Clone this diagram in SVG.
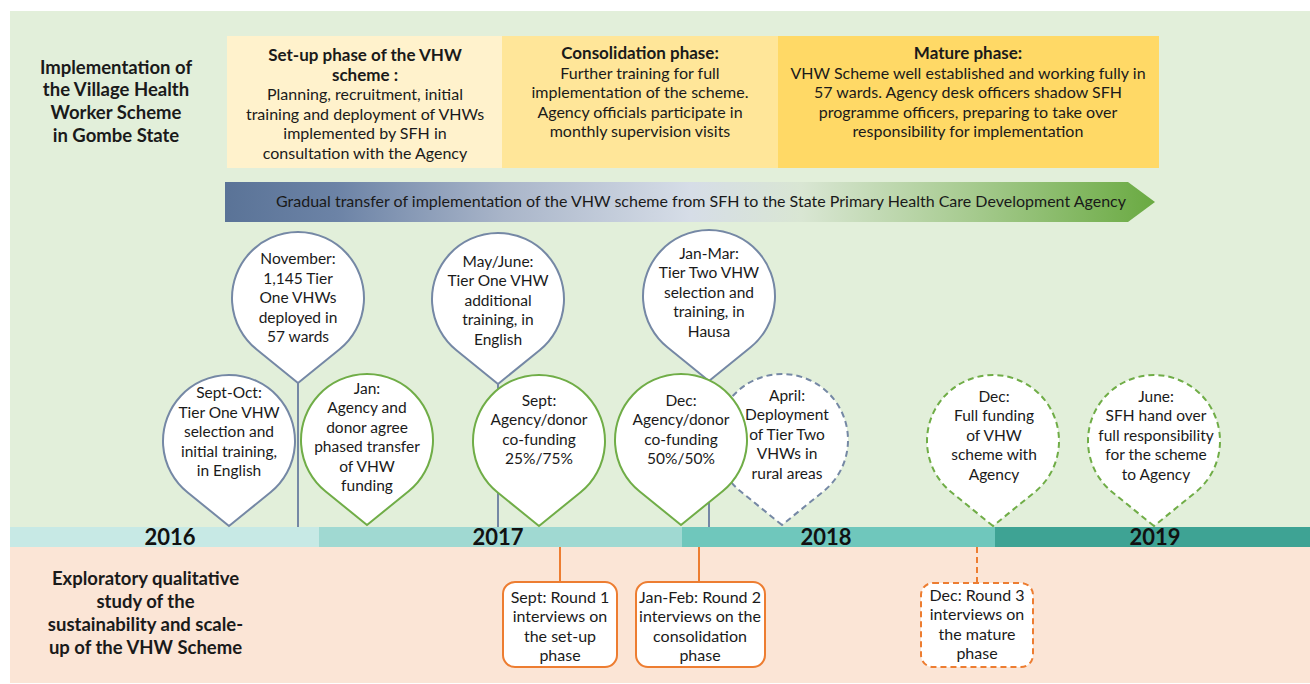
<svg xmlns="http://www.w3.org/2000/svg" width="1310" height="684" viewBox="0 0 1310 684">
  <defs>
    <style>
      text { font-family: Lato, "Open Sans", "Liberation Sans", sans-serif; fill: #1a1a1a; text-anchor: middle; }
      .head { font-weight: bold; font-size: 18.5px; }
      .ptitle { font-weight: bold; font-size: 17px; }
      .pbody { font-size: 16px; }
      .pin { font-size: 15.5px; }
      .box { font-size: 16px; }
      .year { font-weight: bold; font-size: 22px; fill: #111; }
      .arrowtxt { font-size: 16px; }
      .pin-blue { fill: #fff; stroke: #7588A5; stroke-width: 2; }
      .pin-green { fill: #fff; stroke: #70AD47; stroke-width: 2; }
      .dashed { stroke-dasharray: 6 4; }
      .stem { stroke: #7588A5; stroke-width: 2; fill: none; }
      .study { fill: #fff; stroke: #ED7D31; stroke-width: 2; }
      .study-link { stroke: #ED7D31; stroke-width: 2; fill: none; }
    </style>
    <linearGradient id="transferGrad" x1="225" y1="0" x2="1155" y2="0" gradientUnits="userSpaceOnUse">
      <stop offset="0" stop-color="#5A7397"/>
      <stop offset="0.12" stop-color="#6C83A6"/>
      <stop offset="0.3" stop-color="#A9B5C9"/>
      <stop offset="0.5" stop-color="#D6DDE7"/>
      <stop offset="0.62" stop-color="#D9E6D3"/>
      <stop offset="0.8" stop-color="#A7CB90"/>
      <stop offset="1" stop-color="#6AAA42"/>
    </linearGradient>
  </defs>

  <!-- background bands -->
  <rect x="0" y="0" width="1310" height="684" fill="#ffffff"/>
  <rect x="10" y="11" width="1300" height="516" fill="#E2EFDA"/>
  <rect x="10" y="547" width="1300" height="136" fill="#FBE5D6"/>

  <!-- section headings -->
  <g id="implementation-heading">
    <text class="head" x="116" y="73.5">Implementation of</text>
    <text class="head" x="116" y="96">the Village Health</text>
    <text class="head" x="116" y="118.5">Worker Scheme</text>
    <text class="head" x="116" y="141.5">in Gombe State</text>
  </g>
  <g id="study-heading">
    <text class="head" x="145.5" y="584.5">Exploratory qualitative</text>
    <text class="head" x="145.5" y="607.5">study of the</text>
    <text class="head" x="145.5" y="630.5">sustainability and scale-</text>
    <text class="head" x="145.5" y="653.5">up of the VHW Scheme</text>
  </g>

  <!-- phases -->
  <g id="phase-setup">
    <rect x="227" y="36" width="275" height="132" fill="#FFF2CC"/>
    <text class="ptitle" x="365" y="61">Set-up phase of the VHW</text>
    <text class="ptitle" x="365" y="81">scheme :</text>
    <text class="pbody" x="365" y="100">Planning, recruitment, initial</text>
    <text class="pbody" x="365" y="120">training and deployment of VHWs</text>
    <text class="pbody" x="365" y="139">implemented by SFH in</text>
    <text class="pbody" x="365" y="159">consultation with the Agency</text>
  </g>
  <g id="phase-consolidation">
    <rect x="502" y="36" width="276" height="132" fill="#FFE699"/>
    <text class="ptitle" x="640" y="59">Consolidation phase:</text>
    <text class="pbody" x="640" y="79">Further training for full</text>
    <text class="pbody" x="640" y="98">implementation of the scheme.</text>
    <text class="pbody" x="640" y="118">Agency officials participate in</text>
    <text class="pbody" x="640" y="137">monthly supervision visits</text>
  </g>
  <g id="phase-mature">
    <rect x="778" y="36" width="381" height="132" fill="#FFD966"/>
    <text class="ptitle" x="968" y="59">Mature phase:</text>
    <text class="pbody" x="968" y="79">VHW Scheme well established and working fully in</text>
    <text class="pbody" x="968" y="98">57 wards. Agency desk officers shadow SFH</text>
    <text class="pbody" x="968" y="118">programme officers, preparing to take over</text>
    <text class="pbody" x="968" y="137">responsibility for implementation</text>
  </g>

  <!-- transfer arrow -->
  <g id="transfer-arrow">
    <polygon points="225,182 1128,182 1155,202 1128,222 225,222" fill="url(#transferGrad)"/>
    <text class="arrowtxt" x="701" y="207">Gradual transfer of implementation of the VHW scheme from SFH to the State Primary Health Care Development Agency</text>
  </g>

  <!-- year bar -->
  <g id="year-bar">
    <rect x="10" y="527" width="309" height="20" fill="#C7E9E5"/>
    <rect x="319" y="527" width="363" height="20" fill="#A0D9D2"/>
    <rect x="682" y="527" width="313" height="20" fill="#6FC7BC"/>
    <rect x="995" y="527" width="315" height="20" fill="#3EA394"/>
    <text class="year" x="170" y="545">2016</text>
    <text class="year" x="498" y="545">2017</text>
    <text class="year" x="826" y="545">2018</text>
    <text class="year" x="1155" y="545">2019</text>
  </g>

  <!-- connectors: pin stems and study links -->
  <g id="connectors">
    <line class="stem" x1="298" y1="382" x2="298" y2="527"/>
    <line class="stem" x1="498" y1="383" x2="498" y2="527"/>
    <line class="stem" x1="709" y1="380" x2="709" y2="527"/>
    <line class="study-link" x1="560" y1="547" x2="560" y2="582"/>
    <line class="study-link" x1="699" y1="547" x2="699" y2="582"/>
    <line class="study-link dashed" x1="977" y1="547" x2="977" y2="583"/>
  </g>

  <!-- event pins (circle r=66 with tip 85 below centre) -->
  <g id="pin-sept-oct-2016">
    <path class="pin-blue" d="M229,526 L187.4,492.25 A66,66 0 1 1 270.6,492.25 Z"/>
    <text class="pin" x="229" y="398">Sept-Oct:</text>
    <text class="pin" x="229" y="417.5">Tier One VHW</text>
    <text class="pin" x="229" y="437">selection and</text>
    <text class="pin" x="229" y="456.5">initial training,</text>
    <text class="pin" x="229" y="476">in English</text>
  </g>
  <g id="pin-nov-2016">
    <path class="pin-blue" d="M298,383 L256.4,349.25 A66,66 0 1 1 339.6,349.25 Z"/>
    <text class="pin" x="298" y="264">November:</text>
    <text class="pin" x="298" y="283.5">1,145 Tier</text>
    <text class="pin" x="298" y="303">One VHWs</text>
    <text class="pin" x="298" y="322.5">deployed in</text>
    <text class="pin" x="298" y="342">57 wards</text>
  </g>
  <g id="pin-jan-2017">
    <path class="pin-green" d="M367,525 L325.4,491.25 A66,66 0 1 1 408.6,491.25 Z"/>
    <text class="pin" x="367" y="393.5">Jan:</text>
    <text class="pin" x="367" y="413">Agency and</text>
    <text class="pin" x="367" y="432.5">donor agree</text>
    <text class="pin" x="367" y="452">phased transfer</text>
    <text class="pin" x="367" y="471.5">of VHW</text>
    <text class="pin" x="367" y="491">funding</text>
  </g>
  <g id="pin-may-june-2017">
    <path class="pin-blue" d="M498,384 L456.4,350.25 A66,66 0 1 1 539.6,350.25 Z"/>
    <text class="pin" x="498" y="266.5">May/June:</text>
    <text class="pin" x="498" y="286">Tier One VHW</text>
    <text class="pin" x="498" y="305.5">additional</text>
    <text class="pin" x="498" y="325">training, in</text>
    <text class="pin" x="498" y="344.5">English</text>
  </g>
  <g id="pin-sept-2017">
    <path class="pin-green" d="M539,526 L497.4,492.25 A66,66 0 1 1 580.6,492.25 Z"/>
    <text class="pin" x="539" y="405.5">Sept:</text>
    <text class="pin" x="539" y="425">Agency/donor</text>
    <text class="pin" x="539" y="444.5">co-funding</text>
    <text class="pin" x="539" y="464">25%/75%</text>
  </g>
  <g id="pin-jan-mar-2018">
    <path class="pin-blue" d="M709,381 L667.4,347.25 A66,66 0 1 1 750.6,347.25 Z"/>
    <text class="pin" x="709" y="258.5">Jan-Mar:</text>
    <text class="pin" x="709" y="278">Tier Two VHW</text>
    <text class="pin" x="709" y="297.5">selection and</text>
    <text class="pin" x="709" y="317">training, in</text>
    <text class="pin" x="709" y="336.5">Hausa</text>
  </g>
  <g id="pin-april-2018">
    <path class="pin-blue dashed" d="M782,525 L740.4,491.25 A66,66 0 1 1 823.6,491.25 Z"/>
    <text class="pin" x="787" y="400.5">April:</text>
    <text class="pin" x="787" y="420">Deployment</text>
    <text class="pin" x="787" y="439.5">of Tier Two</text>
    <text class="pin" x="787" y="459">VHWs in</text>
    <text class="pin" x="787" y="478.5">rural areas</text>
  </g>
  <g id="pin-dec-2017">
    <path class="pin-green" d="M681,525 L639.4,491.25 A66,66 0 1 1 722.6,491.25 Z"/>
    <text class="pin" x="681" y="405.5">Dec:</text>
    <text class="pin" x="681" y="425">Agency/donor</text>
    <text class="pin" x="681" y="444.5">co-funding</text>
    <text class="pin" x="681" y="464">50%/50%</text>
  </g>
  <g id="pin-dec-2018">
    <path class="pin-green dashed" d="M993,526 L951.4,492.25 A66,66 0 1 1 1034.6,492.25 Z"/>
    <text class="pin" x="994" y="401.5">Dec:</text>
    <text class="pin" x="994" y="421">Full funding</text>
    <text class="pin" x="994" y="440.5">of VHW</text>
    <text class="pin" x="994" y="460">scheme with</text>
    <text class="pin" x="994" y="479.5">Agency</text>
  </g>
  <g id="pin-june-2019">
    <path class="pin-green dashed" d="M1154,526 L1112.4,492.25 A66,66 0 1 1 1195.6,492.25 Z"/>
    <text class="pin" x="1156" y="401.5">June:</text>
    <text class="pin" x="1156" y="421">SFH hand over</text>
    <text class="pin" x="1156" y="440.5">full responsibility</text>
    <text class="pin" x="1156" y="460">for the scheme</text>
    <text class="pin" x="1156" y="479.5">to Agency</text>
  </g>

  <!-- study rounds -->
  <g id="round-1">
    <rect class="study" x="503" y="582" width="114" height="85" rx="12"/>
    <text class="box" x="560" y="602.5">Sept: Round 1</text>
    <text class="box" x="560" y="622">interviews on</text>
    <text class="box" x="560" y="641.5">the set-up</text>
    <text class="box" x="560" y="661">phase</text>
  </g>
  <g id="round-2">
    <rect class="study" x="636" y="582" width="129" height="85" rx="12"/>
    <text class="box" x="700" y="602.5">Jan-Feb: Round 2</text>
    <text class="box" x="700" y="622">interviews on the</text>
    <text class="box" x="700" y="641.5">consolidation</text>
    <text class="box" x="700" y="661">phase</text>
  </g>
  <g id="round-3">
    <rect class="study dashed" x="921" y="583" width="112" height="84" rx="12"/>
    <text class="box" x="977" y="600.5">Dec: Round 3</text>
    <text class="box" x="977" y="620">interviews on</text>
    <text class="box" x="977" y="639.5">the mature</text>
    <text class="box" x="977" y="659">phase</text>
  </g>
</svg>
